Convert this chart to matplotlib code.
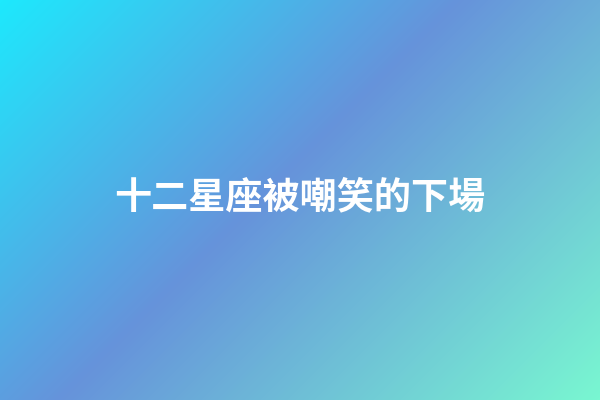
import numpy as np
import matplotlib
matplotlib.use("Agg")
import matplotlib.pyplot as plt
from matplotlib.colors import LinearSegmentedColormap

# background gradient stops (135deg, top-left -> bottom-right)
stops = [0.0, 0.46, 1.0]
stop_colors = ["#1de9fd", "#6693db", "#79f7d1"]
title = "十二星座被嘲笑的下場"

W, H = 600, 400

fig = plt.figure(figsize=(6, 4), dpi=100)
ax = fig.add_axes([0, 0, 1, 1])
ax.axis("off")

cmap = LinearSegmentedColormap.from_list("bg", list(zip(stops, stop_colors)))
x = np.arange(W) + 0.5
y = np.arange(H) + 0.5
xx, yy = np.meshgrid(x, y)
# CSS-style 135deg gradient position
length = W * np.sqrt(0.5) + H * np.sqrt(0.5)
t = ((xx - W / 2) + (yy - H / 2)) * np.sqrt(0.5) / length + 0.5
ax.imshow(t, cmap=cmap, vmin=0, vmax=1, extent=[0, W, H, 0], aspect="auto")
ax.set_xlim(0, W)
ax.set_ylim(H, 0)

ax.text(300, 198, title, color="white", fontsize=26.7, fontweight="bold",
        ha="center", va="center",
        family=["Noto Sans CJK TC", "DejaVu Sans"])

fig.savefig("out.png", dpi=100)
